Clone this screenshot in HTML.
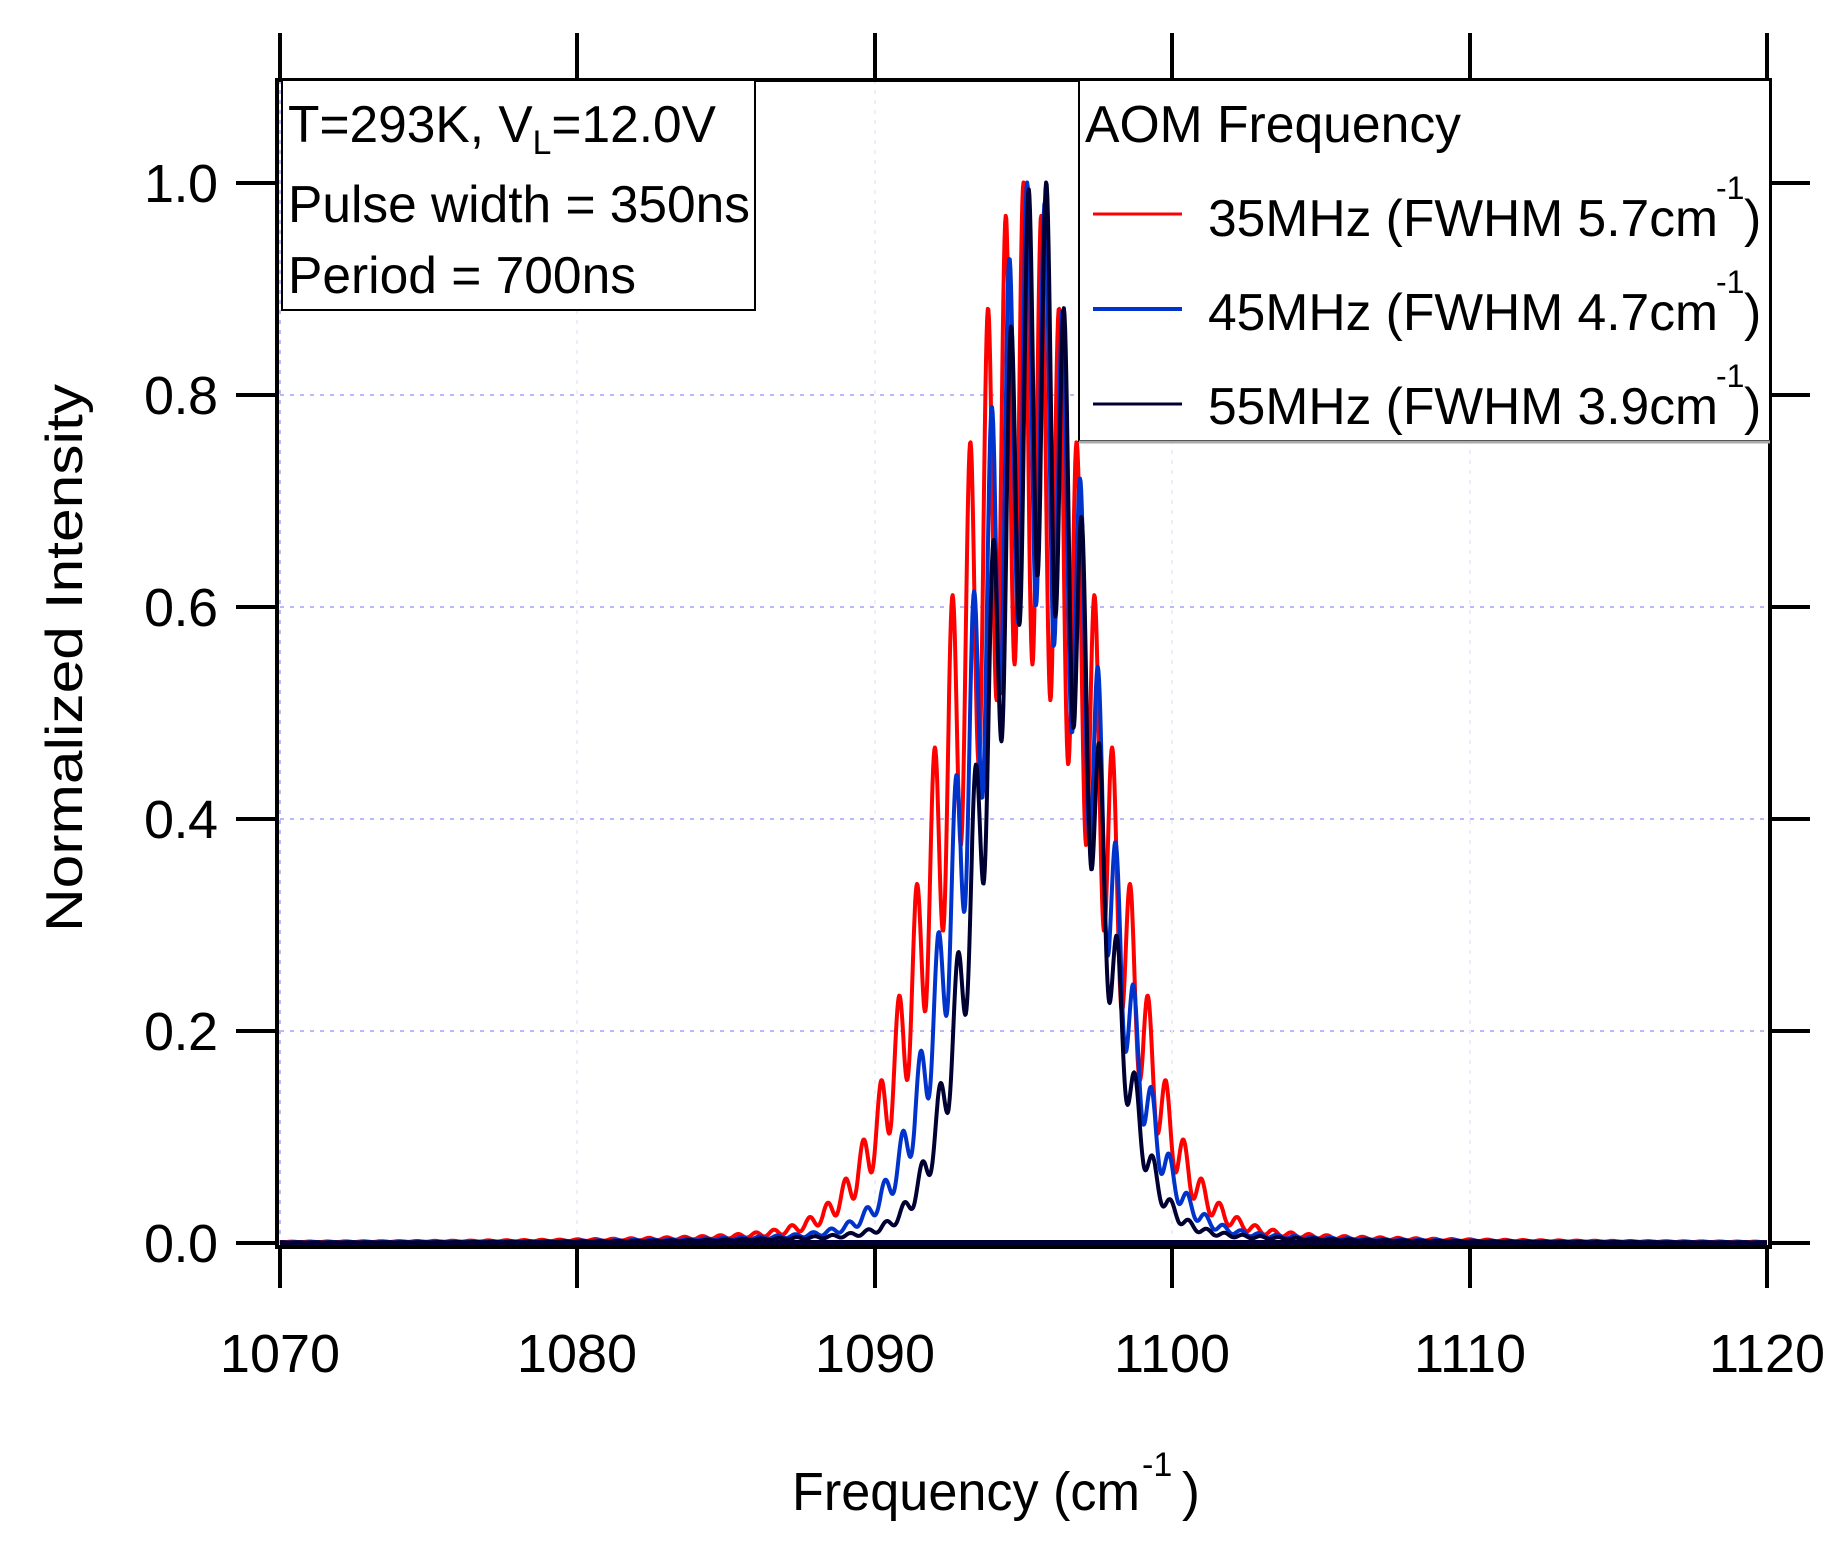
<!DOCTYPE html>
<html><head><meta charset="utf-8"><style>
html,body{margin:0;padding:0;background:#fff;}
svg{display:block;font-family:"Liberation Sans",sans-serif;}
</style></head><body>
<svg id="s" width="1847" height="1553" viewBox="0 0 1847 1553" xmlns="http://www.w3.org/2000/svg">
<g stroke="#b8b8ff" stroke-width="2" stroke-dasharray="4,6">
<line x1="280" y1="1031" x2="1767" y2="1031"/>
<line x1="280" y1="819" x2="1767" y2="819"/>
<line x1="280" y1="607" x2="1767" y2="607"/>
<line x1="280" y1="395" x2="1767" y2="395"/>
<line x1="280" y1="80" x2="280" y2="1243"/>
</g>
<g stroke="#eeeefa" stroke-width="2" stroke-dasharray="4,6">
<line x1="577" y1="80" x2="577" y2="1243"/>
<line x1="875" y1="80" x2="875" y2="1243"/>
<line x1="1172" y1="80" x2="1172" y2="1243"/>
<line x1="1470" y1="80" x2="1470" y2="1243"/>
</g>
<line x1="280" y1="1243" x2="1767" y2="1243" stroke="#000033" stroke-width="6"/>
<g id="curves" fill="none" stroke-width="4" stroke-linejoin="round"></g>
<rect x="277" y="80" width="1493" height="1167" fill="none" stroke="#000" stroke-width="4"/>
<g stroke="#000" stroke-width="4">
<line x1="280" y1="1247" x2="280" y2="1288"/><line x1="577" y1="1247" x2="577" y2="1288"/>
<line x1="875" y1="1247" x2="875" y2="1288"/><line x1="1172" y1="1247" x2="1172" y2="1288"/>
<line x1="1470" y1="1247" x2="1470" y2="1288"/><line x1="1767" y1="1247" x2="1767" y2="1288"/>
<line x1="280" y1="33" x2="280" y2="80"/><line x1="577" y1="33" x2="577" y2="80"/>
<line x1="875" y1="33" x2="875" y2="80"/><line x1="1172" y1="33" x2="1172" y2="80"/>
<line x1="1470" y1="33" x2="1470" y2="80"/><line x1="1767" y1="33" x2="1767" y2="80"/>
<line x1="236" y1="1243" x2="277" y2="1243"/><line x1="236" y1="1031" x2="277" y2="1031"/>
<line x1="236" y1="819" x2="277" y2="819"/><line x1="236" y1="607" x2="277" y2="607"/>
<line x1="236" y1="395" x2="277" y2="395"/><line x1="236" y1="183" x2="277" y2="183"/>
<line x1="1770" y1="1243" x2="1810" y2="1243"/><line x1="1770" y1="1031" x2="1810" y2="1031"/>
<line x1="1770" y1="819" x2="1810" y2="819"/><line x1="1770" y1="607" x2="1810" y2="607"/>
<line x1="1770" y1="395" x2="1810" y2="395"/><line x1="1770" y1="183" x2="1810" y2="183"/>
</g>
<g font-size="54" text-anchor="end" fill="#000">
<text x="218" y="1262" textLength="74">0.0</text>
<text x="218" y="1050" textLength="74">0.2</text>
<text x="218" y="838" textLength="74">0.4</text>
<text x="218" y="626" textLength="74">0.6</text>
<text x="218" y="414" textLength="74">0.8</text>
<text x="218" y="202" textLength="74">1.0</text>
</g>
<g font-size="54" text-anchor="middle" fill="#000">
<text x="280" y="1372">1070</text>
<text x="577" y="1372">1080</text>
<text x="875" y="1372">1090</text>
<text x="1172" y="1372">1100</text>
<text x="1470" y="1372">1110</text>
<text x="1767" y="1372">1120</text>
</g>
<text transform="translate(82,932) rotate(-90)" font-size="52" textLength="548" lengthAdjust="spacingAndGlyphs">Normalized Intensity</text>
<text x="792" y="1510" font-size="54" textLength="348" lengthAdjust="spacingAndGlyphs">Frequency (cm</text>
<text x="1142" y="1476" font-size="34">-1</text>
<text x="1182" y="1510" font-size="54">)</text>
<rect x="282" y="80" width="473" height="230" fill="#fff" stroke="#000" stroke-width="2"/>
<g font-size="52" fill="#000">
<text x="288" y="142" textLength="428" lengthAdjust="spacingAndGlyphs">T=293K, V<tspan font-size="34" dy="12">L</tspan><tspan dy="-12">=12.0V</tspan></text>
<text x="288" y="222" textLength="462" lengthAdjust="spacingAndGlyphs">Pulse width = 350ns</text>
<text x="288" y="293" textLength="348" lengthAdjust="spacingAndGlyphs">Period = 700ns</text>
</g>
<rect x="1079" y="80" width="691" height="361" fill="#fff" stroke="#000" stroke-width="2"/>
<line x1="1079" y1="442" x2="1770" y2="442" stroke="#aaa" stroke-width="3"/>
<g font-size="52" fill="#000">
<text x="1085" y="142" textLength="376" lengthAdjust="spacingAndGlyphs">AOM Frequency</text>
<text x="1208" y="236" textLength="510" lengthAdjust="spacingAndGlyphs">35MHz (FWHM 5.7cm</text>
<text x="1208" y="330" textLength="510" lengthAdjust="spacingAndGlyphs">45MHz (FWHM 4.7cm</text>
<text x="1208" y="424" textLength="510" lengthAdjust="spacingAndGlyphs">55MHz (FWHM 3.9cm</text>
<text x="1716" y="199" font-size="32">-1</text><text x="1744" y="236">)</text>
<text x="1716" y="293" font-size="32">-1</text><text x="1744" y="330">)</text>
<text x="1716" y="387" font-size="32">-1</text><text x="1744" y="424">)</text>
</g>
<line x1="1093" y1="214" x2="1182" y2="214" stroke="#ff0000" stroke-width="3"/>
<line x1="1093" y1="309" x2="1182" y2="309" stroke="#0033cc" stroke-width="4"/>
<line x1="1093" y1="404" x2="1182" y2="404" stroke="#000033" stroke-width="3"/>
</svg>
<script>
(function(){
var g=document.getElementById('curves');
function X(v){return 280+(v-1070)*29.74;}
function Y(v){return 1243-v*1060.5;}
var series=[
 {c:"#ff0000",w:5.7,ph:0.0,m:0.45,c0:1095.0},
 {c:"#0033cc",w:4.7,ph:0.18,m:0.4,c0:1095.3},
 {c:"#000033",w:3.9,ph:0.33,m:0.38,c0:1095.5}
];
series.forEach(function(s){
  var vals=[],xs=[];
  var sig=s.w/2.355,hw=s.w/2;
  for(var x=1070;x<=1120;x+=0.02){
    var d=x-s.c0;
    var gau=Math.exp(-d*d/(2*sig*sig));
    var lor=hw*hw/(d*d+hw*hw);
    var env=0.9*gau+0.1*lor;
    var osc=0.5+0.5*Math.cos(2*Math.PI*(x-s.c0+s.ph)/0.6);
    var v=env*(1-s.m*(1-osc));
    vals.push(v);xs.push(x);
  }
  var mx=Math.max.apply(null,vals),pts=[];
  for(var i=0;i<vals.length;i++){pts.push(X(xs[i]).toFixed(1)+","+Y(vals[i]/mx).toFixed(1));}
  var p=document.createElementNS("http://www.w3.org/2000/svg","polyline");
  p.setAttribute("points",pts.join(" "));p.setAttribute("stroke",s.c);
  g.appendChild(p);
});
})();
</script>
</body></html>
